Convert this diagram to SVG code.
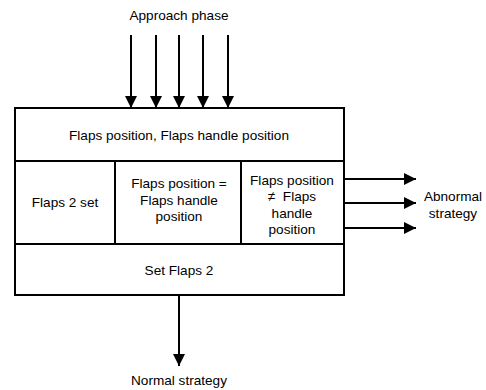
<svg xmlns="http://www.w3.org/2000/svg" width="486" height="390" viewBox="0 0 486 390">
<style>
text{font-family:"Liberation Sans",Arial,sans-serif;font-size:13.6px;fill:#000;text-anchor:middle}
.box{fill:#fff;stroke:#000;stroke-width:2}
.ln{stroke:#000;stroke-width:2;fill:none}
</style>
<defs>
<marker id="ah" markerWidth="12" markerHeight="12" refX="12" refY="6" orient="auto" markerUnits="userSpaceOnUse">
<path d="M0,0 L12,6 L0,12 Z" fill="#000"/>
</marker>
</defs>
<rect width="486" height="390" fill="#fff"/>
<text x="179" y="20">Approach phase</text>
<g id="top">
<rect class="box" x="15" y="108" width="329" height="53"/>
<text x="179" y="140">Flaps position, Flaps handle position</text>
</g>
<g id="flaps2set">
<rect class="box" x="15" y="161" width="100" height="83"/>
<text x="65" y="207">Flaps 2 set</text>
</g>
<g id="equal">
<rect class="box" x="115" y="161" width="126" height="83"/>
<text x="179" y="188">Flaps position =</text>
<text x="179" y="205">Flaps handle</text>
<text x="179" y="221">position</text>
</g>
<g id="notequal">
<rect class="box" x="241" y="161" width="103" height="83"/>
<text x="292" y="185">Flaps position</text>
<text x="292" y="201">≠ &#160;Flaps</text>
<text x="292" y="218">handle</text>
<text x="292" y="234">position</text>
</g>
<g id="setflaps">
<rect class="box" x="15" y="244" width="329" height="51"/>
<text x="179" y="275">Set Flaps 2</text>
</g>
<text x="453" y="201">Abnormal</text>
<text x="453" y="218">strategy</text>
<text x="179" y="385">Normal strategy</text>
<g id="connectors">
<line class="ln" x1="131" y1="35" x2="131" y2="108" marker-end="url(#ah)"/>
<line class="ln" x1="156" y1="35" x2="156" y2="108" marker-end="url(#ah)"/>
<line class="ln" x1="179" y1="35" x2="179" y2="108" marker-end="url(#ah)"/>
<line class="ln" x1="203" y1="35" x2="203" y2="108" marker-end="url(#ah)"/>
<line class="ln" x1="228" y1="35" x2="228" y2="108" marker-end="url(#ah)"/>
<line class="ln" x1="344" y1="179" x2="416" y2="179" marker-end="url(#ah)"/>
<line class="ln" x1="344" y1="203" x2="416" y2="203" marker-end="url(#ah)"/>
<line class="ln" x1="344" y1="228" x2="416" y2="228" marker-end="url(#ah)"/>
<line class="ln" x1="179" y1="295" x2="179" y2="366" marker-end="url(#ah)"/>
</g>
</svg>
